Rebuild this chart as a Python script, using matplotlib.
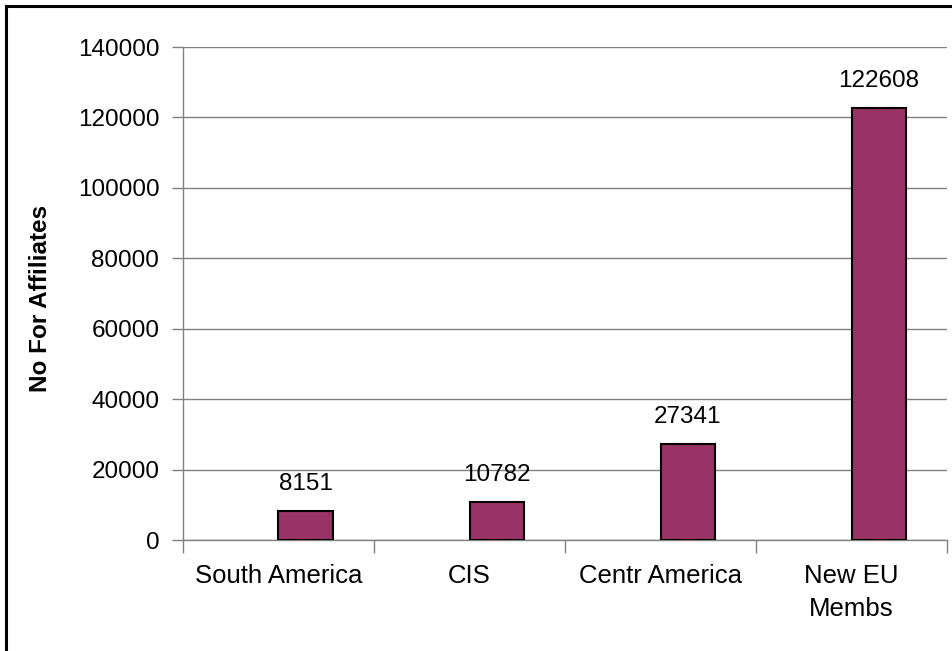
import matplotlib.pyplot as plt
import numpy as np

# Data
categories = ['South America', 'CIS', 'Centr America', 'New EU\nMembs']
affiliates = [8151, 10782, 27341, 122608]
y_ticks = [0, 20000, 40000, 60000, 80000, 100000, 120000, 140000]

plt.rcParams['font.family'] = ['Liberation Sans', 'DejaVu Sans']

fig = plt.figure(figsize=(9.52, 6.51), dpi=100)
ax = fig.add_axes([0.1922, 0.1705, 0.8026, 0.7573])

pos = np.arange(len(categories))
# bars sit just right of the category centre (Excel style)
bars = ax.bar(pos + 0.5, affiliates, width=0.283, align='edge',
              color='#993366', edgecolor='black', linewidth=1.5, zorder=3)

for b, v in zip(bars, affiliates):
    ax.annotate(str(v), (b.get_x() + b.get_width() / 2, v),
                xytext=(0, 15), textcoords='offset points',
                ha='center', va='baseline', fontsize=17.5)

ax.set_xlim(0, len(categories))
ax.set_ylim(0, 140000)
ax.set_yticks(y_ticks)
ax.set_yticklabels([str(t) for t in y_ticks], fontsize=17.5)
ax.yaxis.grid(True, color='#808080', linewidth=1)
ax.set_axisbelow(True)

# category boundaries get ticks, labels at centres
ax.set_xticks(np.arange(len(categories) + 1))
ax.set_xticklabels([])
ax.set_xticks(pos + 0.5, minor=True)
ax.set_xticklabels(categories, minor=True, fontsize=18.5, linespacing=1.5)
ax.tick_params(axis='x', which='minor', length=0, pad=17)
ax.tick_params(axis='x', which='major', length=9, color='#808080', width=1)
ax.tick_params(axis='y', length=8, color='#808080', width=1, pad=9)

for s in ['top', 'right']:
    ax.spines[s].set_visible(False)
for s in ['left', 'bottom']:
    ax.spines[s].set_color('#808080')
    ax.spines[s].set_linewidth(1)

ax.set_ylabel('No For Affiliates', fontsize=17.5, fontweight='bold')
ax.yaxis.set_label_coords(-0.171, 0.489)

# figure frame (only top/left visible in the crop)
fig.add_artist(plt.Line2D([0.0068, 1.0], [0.991, 0.991], color='black',
                          linewidth=2.2, transform=fig.transFigure))
fig.add_artist(plt.Line2D([0.0068, 0.0068], [0.0, 0.991], color='black',
                          linewidth=2.2, transform=fig.transFigure))

fig.savefig('out.png', dpi=100)
